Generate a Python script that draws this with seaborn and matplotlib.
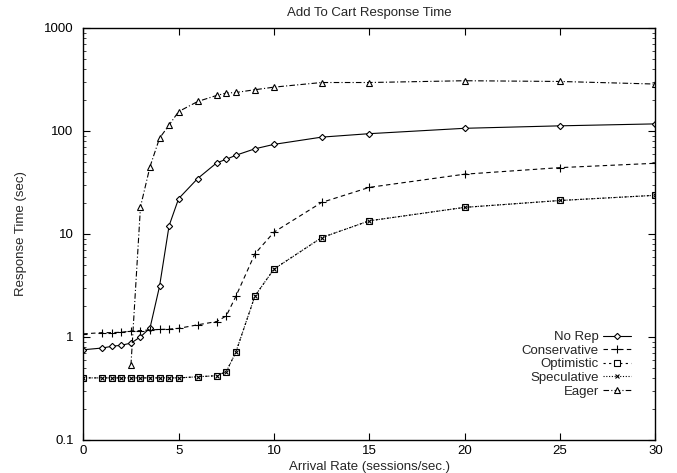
import matplotlib
matplotlib.use('Agg')
import matplotlib.pyplot as plt
from matplotlib.ticker import LogLocator, FixedLocator, NullFormatter
import seaborn as sns

# Data
rate = [0, 1, 1.5, 2, 2.5, 3, 3.5, 4, 4.5, 5, 6, 7, 7.5, 8, 9, 10, 12.5, 15, 20, 25, 30]
no_rep = [0.75, 0.78, 0.81, 0.83, 0.87, 1.0, 1.22, 3.1, 12, 22, 34.5, 49, 53, 58, 67, 74, 87, 94, 106, 112, 117]
conservative = [1.07, 1.1, 1.1, 1.11, 1.14, 1.15, 1.17, 1.18, 1.19, 1.21, 1.31, 1.41, 1.6, 2.47, 6.4, 10.4, 20.2, 28.3, 38, 44, 48.5]
optimistic = [0.4, 0.4, 0.4, 0.4, 0.4, 0.4, 0.4, 0.4, 0.4, 0.4, 0.41, 0.42, 0.46, 0.71, 2.49, 4.56, 9.2, 13.4, 18.1, 21.1, 23.7]
speculative = [0.4, 0.4, 0.4, 0.4, 0.4, 0.4, 0.4, 0.4, 0.4, 0.4, 0.41, 0.42, 0.46, 0.71, 2.49, 4.56, 9.2, 13.4, 18.1, 21.1, 23.7]
eager_rate = [2.5, 3, 3.5, 4, 4.5, 5, 6, 7, 7.5, 8, 9, 10, 12.5, 15, 20, 25, 30]
eager = [0.53, 18.3, 45, 85, 114, 154, 193, 221, 233, 236, 251, 266, 295, 295, 307, 302, 285]

sns.set_style('ticks')
plt.rcParams['font.family'] = ['Liberation Sans', 'DejaVu Sans']
fs = 9.5
plt.rcParams['font.size'] = fs

fig = plt.figure(figsize=(6.77, 4.73), dpi=100)
ax = fig.add_axes([0.123, 0.070, 0.845, 0.871])

lw = 0.8
sns.lineplot(x=rate, y=no_rep, ax=ax, color='black', lw=lw, linestyle='-',
             marker='D', markersize=3.2, markerfacecolor='white', markeredgecolor='black',
             markeredgewidth=0.8, label='No Rep')
sns.lineplot(x=rate, y=conservative, ax=ax, color='black', lw=lw, linestyle=(0, (4, 3)),
             marker='+', markersize=5.5, markeredgecolor='black', markeredgewidth=0.8,
             label='Conservative')
sns.lineplot(x=rate, y=optimistic, ax=ax, color='black', lw=lw, linestyle=(0, (2, 3)),
             marker='s', markersize=4.5, markerfacecolor='white', markeredgecolor='black',
             markeredgewidth=0.8, label='Optimistic')
sns.lineplot(x=rate, y=speculative, ax=ax, color='black', lw=lw, linestyle=(0, (1, 1.5)),
             marker='x', markersize=3.5, markeredgecolor='black', markeredgewidth=0.8,
             label='Speculative')
sns.lineplot(x=eager_rate, y=eager, ax=ax, color='black', lw=lw, linestyle=(0, (5, 2, 1, 2)),
             marker='^', markersize=4.2, markerfacecolor='white', markeredgecolor='black',
             markeredgewidth=0.8, label='Eager')

ax.set_yscale('log')
ax.set_xlim(0, 30)
ax.set_ylim(0.1, 1000)
ax.xaxis.set_major_locator(FixedLocator([0, 5, 10, 15, 20, 25, 30]))
ax.yaxis.set_major_locator(FixedLocator([0.1, 1, 10, 100, 1000]))
ax.set_yticklabels(['0.1', '1', '10', '100', '1000'])
ax.yaxis.set_minor_locator(LogLocator(base=10, subs=range(2, 10), numticks=20))
ax.yaxis.set_minor_formatter(NullFormatter())

ax.tick_params(which='major', direction='in', length=5, width=0.8, top=True, right=True,
               labelsize=fs, colors='black')
ax.tick_params(axis='y', which='major', pad=7)
ax.tick_params(axis='x', which='major', pad=4)
ax.tick_params(which='minor', direction='in', length=2.5, width=0.6, right=True)
for s in ax.spines.values():
    s.set_linewidth(1.0)
    s.set_color('black')
    s.set_visible(True)

ax.set_title('Add To Cart Response Time', fontsize=fs, pad=8.5)
ax.set_xlabel('Arrival Rate (sessions/sec.)', fontsize=fs, labelpad=2.5)
ax.set_ylabel('Response Time (sec)', fontsize=fs, labelpad=12)

leg = ax.legend(loc='lower right', bbox_to_anchor=(0.966, 0.09), frameon=False,
                markerfirst=False, fontsize=fs, handlelength=2.1, handletextpad=0.3,
                labelspacing=0.1, borderaxespad=0)
for t in leg.get_texts():
    t.set_ha('right')

fig.savefig('out.png', dpi=100)
